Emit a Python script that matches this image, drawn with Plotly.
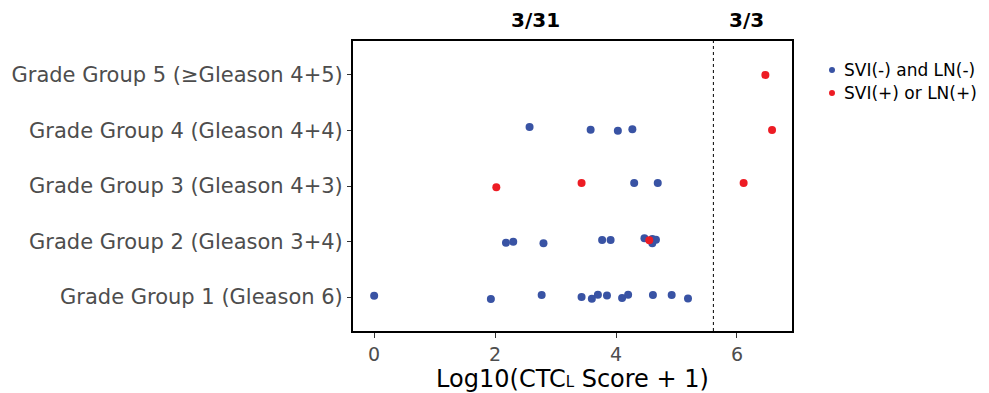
import plotly.graph_objects as go

group_labels = [
    "Grade Group 1 (Gleason 6)",
    "Grade Group 2 (Gleason 3+4)",
    "Grade Group 3 (Gleason 4+3)",
    "Grade Group 4 (Gleason 4+4)",
    "Grade Group 5 (≥Gleason 4+5)",
]

# SVI(-) and LN(-)
neg_group = [0]*12 + [1]*9 + [2]*2 + [3]*4
neg_score = [0.00, 1.93, 2.77, 3.43, 3.60, 3.70, 3.85, 4.10, 4.20, 4.61, 4.92, 5.19,
             2.18, 2.30, 2.80, 3.77, 3.91, 4.47, 4.60, 4.66, 4.60,
             4.30, 4.69,
             2.57, 3.58, 4.03, 4.27]
neg_jitter = [0.023, -0.036, 0.036, 0.0, -0.031, 0.041, 0.031, -0.018, 0.041, 0.036, 0.036, -0.023,
              -0.022, -0.004, -0.032, 0.027, 0.027, 0.058, 0.045, 0.032, -0.032,
              0.054, 0.054,
              0.063, 0.014, -0.004, 0.022]

# SVI(+) or LN(+)
pos_group = [1, 2, 2, 2, 3, 4]
pos_score = [4.55, 2.02, 3.43, 6.11, 6.58, 6.47]
pos_jitter = [0.022, -0.023, 0.054, 0.054, 0.009, 0.0]

series_names = ["SVI(-) and LN(-)", "SVI(+) or LN(+)"]
count_labels = ["3/31", "3/3"]
threshold = 5.61

x_range = [-0.35, 6.91]
count_label_x = [2.67, 6.16]

blue = "#3953a4"
red = "#ed1c24"
FONT = "DejaVu Sans"
OFF = 8  # page body margin
W = 989 - 2 * OFF

fig = go.Figure()
fig.add_trace(go.Scatter(
    x=neg_score, y=[g + j for g, j in zip(neg_group, neg_jitter)],
    mode="markers", name=series_names[0], showlegend=False,
    marker=dict(color=blue, size=8),
))
fig.add_trace(go.Scatter(
    x=pos_score, y=[g + j for g, j in zip(pos_group, pos_jitter)],
    mode="markers", name=series_names[1], showlegend=False,
    marker=dict(color=red, size=8),
))

fig.add_shape(type="line", x0=threshold, x1=threshold, y0=0, y1=1,
              xref="x", yref="paper",
              line=dict(color="black", width=1, dash="dot"))

for lbl, lx in zip(count_labels, count_label_x):
    fig.add_annotation(x=lx, y=1.0, xref="x", yref="paper",
                       text="<b>" + lbl + "</b>", showarrow=False,
                       yanchor="bottom", yshift=7,
                       font=dict(size=20, color="black", family=FONT))

# manual legend (paper coordinates)
plot_w, plot_h = 439, 290
for i, (nm, col) in enumerate(zip(series_names, [blue, red])):
    py = 0.9 - i * 0.079
    px = (832 - 353) / plot_w
    fig.add_shape(type="circle", xref="paper", yref="paper",
                  xsizemode="pixel", ysizemode="pixel",
                  xanchor=px, yanchor=py, x0=-3, x1=3, y0=-3, y1=3,
                  fillcolor=col, line=dict(width=0))
    fig.add_annotation(x=(842 - 353) / plot_w, y=py, xref="paper", yref="paper",
                       text=nm, showarrow=False, xanchor="left", yanchor="middle",
                       font=dict(size=17, color="black", family=FONT))

fig.update_layout(
    width=W, height=393,
    margin=dict(l=353 - OFF, r=(W + OFF) - 792, t=41 - OFF, b=62 + OFF),
    plot_bgcolor="white", paper_bgcolor="white",
    font=dict(family=FONT, color="#4d4d4d"),
    showlegend=False,
)
fig.update_xaxes(
    automargin=False,
    range=x_range, tickvals=[0, 2, 4, 6], ticks="outside", ticklen=5,
    tickcolor="#333333", tickwidth=1,
    tickfont=dict(size=19, color="#4d4d4d", family=FONT),
    showgrid=False, zeroline=False,
    showline=True, linecolor="black", linewidth=2, mirror=True,
    title=dict(text="Log10(CTC<span style='font-size:15px'>L</span> Score + 1)",
               font=dict(size=24, color="black", family=FONT), standoff=4),
)
fig.update_yaxes(
    automargin=False,
    range=[-0.61, 4.61], tickvals=[0, 1, 2, 3, 4], ticktext=group_labels,
    ticks="outside", ticklen=4, tickcolor="#333333", tickwidth=1,
    tickfont=dict(size=21, color="#4d4d4d", family=FONT),
    showgrid=False, zeroline=False,
    showline=True, linecolor="black", linewidth=2, mirror=True,
)

fig.write_html("out.html")
